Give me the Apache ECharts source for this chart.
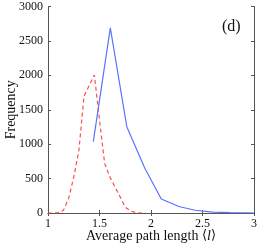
<!DOCTYPE html>
<html><head><meta charset="utf-8">
<script src="https://cdn.jsdelivr.net/npm/echarts@6/dist/echarts.min.js"></script>
<style>html,body{margin:0;padding:0;background:#fff}#c{width:258px;height:246px}</style>
</head><body><div id="c"></div>
<script>
var blueX = [1.44, 1.605, 1.765, 1.94, 2.1, 2.27, 2.43, 2.6, 2.77, 2.93, 3.0];
var blueY = [1036, 2690, 1254, 650, 203, 95, 40, 12, 5, 2, 0];
var redX = [1.0, 1.05, 1.1, 1.15, 1.2, 1.25, 1.3, 1.35, 1.45, 1.5, 1.55, 1.6, 1.65, 1.7, 1.75, 1.8, 1.85, 1.9, 1.95];
var redY = [0, 0, 5, 40, 210, 520, 910, 1700, 2005, 1350, 720, 525, 380, 235, 85, 30, 8, 0, 0];
var xTicks = [1, 1.5, 2, 2.5, 3];
var yTicks = [0, 500, 1000, 1500, 2000, 2500, 3000];

function pairs(xs, ys){ return xs.map(function(x,i){return [x, ys[i]];}); }
var font = 'Liberation Serif';
var axisCol = '#555';
var chart = echarts.init(document.getElementById('c'), null, {renderer:'canvas'});
chart.setOption({
  animation:false,
  grid:{left:48, right:4, top:6.5, bottom:33, containLabel:false, outerBoundsMode:'none'},
  xAxis:[{
    type:'value', min:1, max:3, interval:0.5,
    axisLine:{show:true, lineStyle:{color:axisCol, width:1}},
    axisTick:{show:true, inside:true, length:3, lineStyle:{color:axisCol}},
    splitLine:{show:false},
    axisLabel:{fontFamily:font, fontSize:12, color:'#111', margin:5,
      formatter:function(v){return xTicks.indexOf(v)>=0 ? String(v) : '';}},
    name:'{t|Average path length }{b|\u27E8}{i|l}{b|\u27E9}', nameLocation:'middle', nameGap:16,
    nameMoveOverlap:false,
    nameTextStyle:{fontFamily:font, fontSize:14, color:'#111', verticalAlign:'top',
      rich:{t:{fontFamily:font, fontSize:14, color:'#111'},
            i:{fontFamily:font, fontSize:14, fontStyle:'italic', color:'#111'},
            b:{fontFamily:'DejaVu Serif', fontSize:13, color:'#111'}}}
  },{
    type:'value', position:'top', min:1, max:3, interval:0.5,
    axisLine:{show:true, lineStyle:{color:axisCol, width:1}},
    axisTick:{show:true, inside:true, length:3, lineStyle:{color:axisCol}},
    axisLabel:{show:false}, splitLine:{show:false}
  }],
  yAxis:[{
    type:'value', min:0, max:3000, interval:500,
    axisLine:{show:true, lineStyle:{color:axisCol, width:1}},
    axisTick:{show:true, inside:true, length:3, lineStyle:{color:axisCol}},
    splitLine:{show:false},
    axisLabel:{fontFamily:font, fontSize:12, color:'#111', margin:5,
      formatter:function(v){return String(v);}},
    name:'Frequency', nameLocation:'middle', nameGap:30,
    nameMoveOverlap:false,
    nameTextStyle:{fontFamily:font, fontSize:14, color:'#111'}
  },{
    type:'value', position:'right', min:0, max:3000, interval:500,
    axisLine:{show:true, lineStyle:{color:axisCol, width:1}},
    axisTick:{show:true, inside:true, length:3, lineStyle:{color:axisCol}},
    axisLabel:{show:false}, splitLine:{show:false}
  }],
  graphic:[{type:'text', left:222, top:19, style:{text:'(d)', font:'16px "Liberation Serif"', fill:'#111'}}],
  series:[{
    type:'line', data:pairs(blueX, blueY), showSymbol:false, symbol:'none',
    lineStyle:{color:'#5b72ff', width:1.2}, z:3
  },{
    type:'line', data:pairs(redX, redY), showSymbol:false, symbol:'none',
    lineStyle:{color:'#ff4d4d', width:1.2, type:[4,3]}, z:2
  }]
});
</script></body></html>
